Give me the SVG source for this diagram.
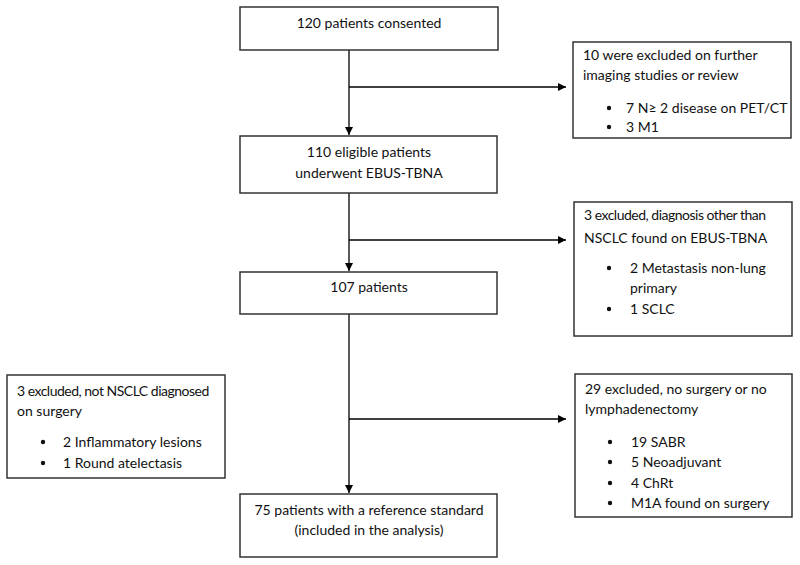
<svg xmlns="http://www.w3.org/2000/svg" width="800" height="565" viewBox="0 0 800 565">
<defs>
<marker id="ah" viewBox="0 0 10 10" refX="10" refY="5" markerWidth="8" markerHeight="8" markerUnits="userSpaceOnUse" orient="auto">
<path d="M0,0 L10,5 L0,10 Z" fill="#000"/>
</marker>
<style>
.box{fill:#fff;stroke:#333;stroke-width:1.5}
.t{font-family:Lato,"Liberation Sans",sans-serif;font-size:14px;fill:#111}
.c{text-anchor:middle}
.n{letter-spacing:-0.5px}
.ln{stroke:#000;stroke-width:1.3;fill:none}
</style>
</defs>
<rect width="800" height="565" fill="#fff"/>
<g id="connectors">
<line class="ln" x1="349" y1="50" x2="349" y2="135" marker-end="url(#ah)"/>
<line class="ln" x1="349" y1="87" x2="566" y2="87" marker-end="url(#ah)"/>
<line class="ln" x1="349" y1="193" x2="349" y2="271" marker-end="url(#ah)"/>
<line class="ln" x1="349" y1="240" x2="566" y2="240" marker-end="url(#ah)"/>
<line class="ln" x1="349" y1="314" x2="349" y2="493" marker-end="url(#ah)"/>
<line class="ln" x1="349" y1="419" x2="566" y2="419" marker-end="url(#ah)"/>
</g>
<g id="n1">
<rect class="box" x="240" y="7" width="258" height="43"/>
<text class="t c" x="369" y="28">120 patients consented</text>
</g>
<g id="n2">
<rect class="box" x="240" y="136" width="257" height="57"/>
<text class="t c" x="369" y="157">110 eligible patients</text>
<text class="t c" x="369" y="178">underwent EBUS-TBNA</text>
</g>
<g id="n3">
<rect class="box" x="240" y="272" width="257" height="42"/>
<text class="t c" x="369" y="292">107 patients</text>
</g>
<g id="n4">
<rect class="box" x="240" y="494" width="257" height="63"/>
<text class="t c" x="369" y="515">75 patients with a reference standard</text>
<text class="t c" x="369" y="535">(included in the analysis)</text>
</g>
<g id="r1">
<rect class="box" x="573" y="42" width="218" height="96"/>
<text class="t" x="583" y="60">10 were excluded on further</text>
<text class="t" x="583" y="80">imaging studies or review</text>
<circle cx="609" cy="108" r="2.2" fill="#111"/>
<text class="t" x="626" y="113">7 N≥ 2 disease on PET/CT</text>
<circle cx="609" cy="127" r="2.2" fill="#111"/>
<text class="t" x="626" y="132">3 M1</text>
</g>
<g id="r2">
<rect class="box" x="574" y="202" width="218" height="134"/>
<text class="t n" x="584" y="220">3 excluded, diagnosis other than</text>
<text class="t" x="584" y="243">NSCLC found on EBUS-TBNA</text>
<circle cx="609" cy="268" r="2.2" fill="#111"/>
<text class="t" x="630" y="273">2 Metastasis non-lung</text>
<text class="t" x="630" y="293">primary</text>
<circle cx="609" cy="309" r="2.2" fill="#111"/>
<text class="t" x="630" y="314">1 SCLC</text>
</g>
<g id="l1">
<rect class="box" x="7" y="375" width="218" height="103"/>
<text class="t n" x="17" y="396">3 excluded, not NSCLC diagnosed</text>
<text class="t" x="17" y="416">on surgery</text>
<circle cx="43" cy="442" r="2.2" fill="#111"/>
<text class="t" x="63" y="447">2 Inflammatory lesions</text>
<circle cx="43" cy="463" r="2.2" fill="#111"/>
<text class="t" x="63" y="468">1 Round atelectasis</text>
</g>
<g id="r3">
<rect class="box" x="575" y="374" width="217" height="143"/>
<text class="t" x="585" y="394">29 excluded, no surgery or no</text>
<text class="t" x="585" y="414">lymphadenectomy</text>
<circle cx="610" cy="442" r="2.2" fill="#111"/>
<text class="t" x="631" y="447">19 SABR</text>
<circle cx="610" cy="462" r="2.2" fill="#111"/>
<text class="t" x="631" y="467">5 Neoadjuvant</text>
<circle cx="610" cy="483" r="2.2" fill="#111"/>
<text class="t" x="631" y="488">4 ChRt</text>
<circle cx="610" cy="503" r="2.2" fill="#111"/>
<text class="t" x="631" y="508">M1A found on surgery</text>
</g>
</svg>
